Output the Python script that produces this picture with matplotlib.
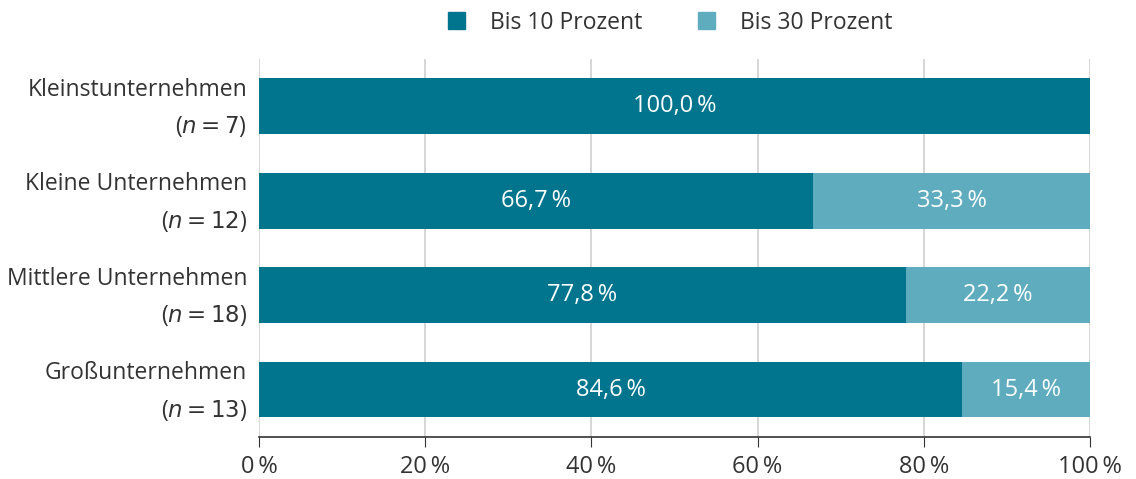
import numpy as np
import matplotlib
matplotlib.use("Agg")
import matplotlib.pyplot as plt
from matplotlib.patches import Patch
from matplotlib.transforms import ScaledTranslation

plt.rcParams['font.family'] = ['Open Sans', 'DejaVu Sans']
plt.rcParams['mathtext.fontset'] = 'dejavusans'

# data
categories = ["Kleinstunternehmen", "Kleine Unternehmen", "Mittlere Unternehmen", "Großunternehmen"]
n_values = [7, 12, 18, 13]
bis10 = [100.0, 66.7, 77.8, 84.6]
bis30 = [0.0, 33.3, 22.2, 15.4]
series_names = ["Bis 10 Prozent", "Bis 30 Prozent"]
colors = ["#00758d", "#5facbf"]
ticks = [0, 20, 40, 60, 80, 100]

def pct(v, dec=True):
    s = f"{v:.1f}".replace(".", ",") if dec else f"{v:.0f}"
    return s + "\u2009%"

fig = plt.figure(figsize=(11.36, 4.79), dpi=100)
ax = fig.add_axes([0.228, 0.088, 0.7315, 0.789])

y = np.arange(len(categories))
h = 0.59
b1 = ax.barh(y, bis10, height=h, color=colors[0], zorder=3)
b2 = ax.barh(y, bis30, left=bis10, height=h, color=colors[1], zorder=3)

for i in range(len(categories)):
    ax.text(bis10[i] / 2, y[i], pct(bis10[i]), ha="center", va="center",
            color="white", fontsize=17, zorder=4)
    if bis30[i] > 0:
        ax.text(bis10[i] + bis30[i] / 2, y[i], pct(bis30[i]), ha="center",
                va="center", color="white", fontsize=17, zorder=4)

ax.set_ylim(len(categories) - 0.5, -0.5)
ax.set_xlim(0, 100)
ax.set_yticks(y)
ax.set_yticklabels([f"{c}\n($n = {n}$)" for c, n in zip(categories, n_values)],
                   fontsize=16.5, color="#333333", linespacing=1.65)
ax.tick_params(axis="y", length=0, pad=8.5)
# nudge the two-line labels up so they sit centred on the bars
for lab in ax.get_yticklabels():
    lab.set_transform(lab.get_transform() + ScaledTranslation(0, 5 / 72, fig.dpi_scale_trans))
ax.set_xticks(ticks)
ax.set_xticklabels([pct(t, dec=False) for t in ticks], fontsize=17, color="#333333")
ax.tick_params(axis="x", length=7, color="#333333", pad=6)

ax.grid(axis="x", color="#d0d0d0", linewidth=1.2, zorder=0)
for s in ["top", "right", "left"]:
    ax.spines[s].set_visible(False)
ax.spines["bottom"].set_color("#333333")
ax.spines["bottom"].set_linewidth(1.2)

handles = [Patch(color=c) for c in colors]
fig.legend(handles, series_names, loc="center", bbox_to_anchor=(0.59, 0.953),
           ncol=2, frameon=False, fontsize=16.5, handlelength=0.75, handleheight=0.75,
           handletextpad=1.1, columnspacing=2.4, labelcolor="#333333")

fig.savefig("out.png", dpi=100)
